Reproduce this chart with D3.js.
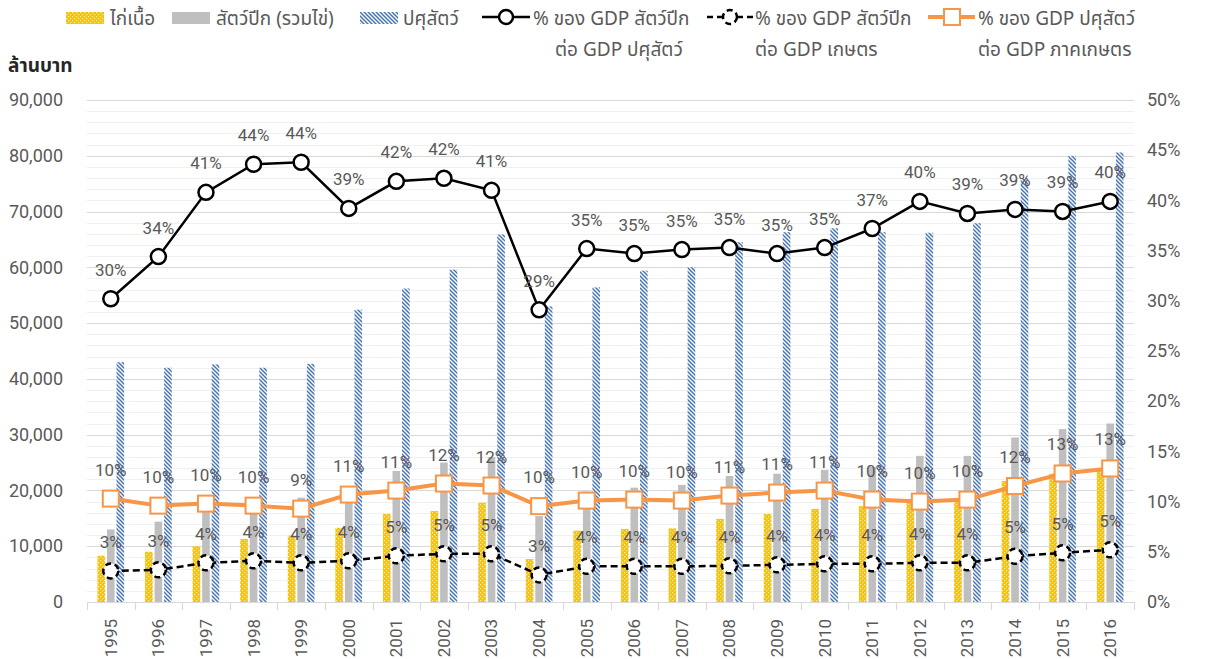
<!DOCTYPE html>
<html>
<head>
<meta charset="utf-8">
<script src="https://cdnjs.cloudflare.com/ajax/libs/d3/7.8.5/d3.min.js"></script>
<style>
  body { margin: 0; background: #fff; }
  svg { display: block; font-family: Roboto, "Noto Sans Thai", "Noto Sans", sans-serif; }
  .thai { font-family: "Noto Sans Thai", "Noto Sans Thai Looped", "Noto Sans", sans-serif; }
</style>
</head>
<body>
<div id="chart"></div>
<script>
// data (million baht / percent)
var years = ["1995","1996","1997","1998","1999","2000","2001","2002","2003","2004","2005",
             "2006","2007","2008","2009","2010","2011","2012","2013","2014","2015","2016"];
var chicken   = [8300, 9000, 10000, 11300, 11900, 13300, 15800, 16300, 17800, 7700, 12800,
                 13100, 13200, 14900, 15800, 16700, 17200, 17800, 18100, 21700, 23000, 23900];
var poultry   = [13000, 14400, 16700, 16000, 18700, 20000, 23500, 25000, 26000, 15400, 19800,
                 20500, 21000, 22600, 23000, 23700, 24200, 26200, 26200, 29500, 31000, 32000];
var livestock = [43000, 42000, 42600, 42000, 42700, 52400, 56200, 59600, 65900, 53000, 56400,
                 59400, 60000, 64500, 66300, 67000, 66300, 66200, 67900, 76000, 80000, 80600];
var pctPoultryLivestock = [30.2, 34.4, 40.8, 43.6, 43.8, 39.2, 41.9, 42.2, 41.0, 29.1, 35.2,
                           34.7, 35.1, 35.3, 34.7, 35.3, 37.2, 39.9, 38.7, 39.1, 38.9, 39.9];
var pctPoultryAgri = [3.1, 3.2, 3.9, 4.1, 3.9, 4.1, 4.6, 4.8, 4.8, 2.7, 3.55,
                      3.55, 3.55, 3.6, 3.7, 3.8, 3.8, 3.9, 3.9, 4.55, 4.9, 5.2];
var pctLivestockAgri = [10.3, 9.6, 9.8, 9.6, 9.3, 10.7, 11.1, 11.8, 11.6, 9.55, 10.1,
                        10.2, 10.1, 10.6, 10.9, 11.1, 10.2, 10.0, 10.2, 11.55, 12.8, 13.3];
var leftTicks = [0, 10000, 20000, 30000, 40000, 50000, 60000, 70000, 80000, 90000];
var rightTicks = [0, 5, 10, 15, 20, 25, 30, 35, 40, 45, 50];

var W = 1206, H = 659;
var plot = {left: 87, right: 1134, top: 100, bottom: 602};

var svg = d3.select("#chart").append("svg")
    .attr("width", W).attr("height", H);

// patterns
var defs = svg.append("defs");
var pY = defs.append("pattern").attr("id", "pYellow")
    .attr("patternUnits", "userSpaceOnUse").attr("width", 4).attr("height", 4);
pY.append("rect").attr("width", 4).attr("height", 4).attr("fill", "#FFC000");
pY.append("rect").attr("x", 0).attr("y", 0).attr("width", 1.2).attr("height", 1.2).attr("fill", "#FFEFB8");
pY.append("rect").attr("x", 2).attr("y", 2).attr("width", 1.2).attr("height", 1.2).attr("fill", "#FFEFB8");

var pB = defs.append("pattern").attr("id", "pBlue")
    .attr("patternUnits", "userSpaceOnUse").attr("width", 4).attr("height", 4);
pB.append("rect").attr("width", 4).attr("height", 4).attr("fill", "#fff");
pB.append("path").attr("d", "M-1,-1L5,5M-1,3L1,5M3,-1L5,1")
    .attr("stroke", "#4472C4").attr("stroke-width", 1.5);

// scales
var x = d3.scaleBand().domain(years).range([plot.left, plot.right]).padding(0);
var y = d3.scaleLinear().domain([0, 90000]).range([plot.bottom, plot.top]);
var y2 = d3.scaleLinear().domain([0, 50]).range([plot.bottom, plot.top]);

// gridlines (minor + major)
var minor = d3.range(0, 90001, 2000);
svg.append("g").selectAll("line").data(minor).join("line")
    .attr("x1", plot.left).attr("x2", plot.right)
    .attr("y1", function(d) { return Math.round(y(d)) + 0.5; })
    .attr("y2", function(d) { return Math.round(y(d)) + 0.5; })
    .attr("stroke", function(d) { return d % 10000 === 0 ? "#d9d9d9" : "#f0f0f0"; })
    .attr("stroke-width", 1.2);

// left axis
var yAxis = svg.append("g")
    .attr("transform", "translate(" + (plot.left - 21) + ",0)")
    .call(d3.axisLeft(y).tickValues(leftTicks).tickSize(0).tickFormat(d3.format(",")));
yAxis.select(".domain").remove();
yAxis.selectAll("text").attr("fill", "#595959").style("font-size", "18px")
    .style("font-family", "Roboto");

// right axis
var y2Axis = svg.append("g")
    .attr("transform", "translate(" + (plot.right + 13) + ",0)")
    .call(d3.axisRight(y2).tickValues(rightTicks).tickSize(0).tickFormat(function(d) { return d + "%"; }));
y2Axis.select(".domain").remove();
y2Axis.selectAll("text").attr("fill", "#595959").attr("x", 0).style("font-size", "18px")
    .style("font-family", "Roboto");

// bars
var bw = x.bandwidth() * 0.16, gap = x.bandwidth() * 0.04;
var barSeries = [
  {values: chicken, fill: "url(#pYellow)", off: -bw * 1.5 - gap},
  {values: poultry, fill: "#BFBFBF", off: -bw * 0.5},
  {values: livestock, fill: "url(#pBlue)", off: bw * 0.5 + gap}
];
barSeries.forEach(function(s) {
  svg.append("g").selectAll("rect").data(s.values).join("rect")
      .attr("x", function(d, i) { return x(years[i]) + x.bandwidth() / 2 + s.off; })
      .attr("width", bw)
      .attr("y", function(d) { return y(d); })
      .attr("height", function(d) { return y(0) - y(d); })
      .attr("fill", s.fill);
});

// x axis
svg.append("line").attr("x1", plot.left).attr("x2", plot.right)
    .attr("y1", plot.bottom + 0.5).attr("y2", plot.bottom + 0.5)
    .attr("stroke", "#d9d9d9").attr("stroke-width", 1.2);
var edges = years.map(function(d) { return x(d); }).concat([plot.right]);
svg.append("g").selectAll("line").data(edges).join("line")
    .attr("x1", function(d) { return Math.round(d) + 0.5; })
    .attr("x2", function(d) { return Math.round(d) + 0.5; })
    .attr("y1", plot.bottom).attr("y2", plot.bottom + 8)
    .attr("stroke", "#d9d9d9").attr("stroke-width", 1.2);
var xAxis = svg.append("g")
    .attr("transform", "translate(0," + plot.bottom + ")")
    .call(d3.axisBottom(x).tickSize(0));
xAxis.select(".domain").remove();
xAxis.selectAll("text")
    .attr("transform", "rotate(-90)")
    .attr("x", -17).attr("y", 0).attr("dy", "0.35em")
    .attr("text-anchor", "end")
    .attr("fill", "#595959").style("font-size", "17px").style("font-family", "Roboto");

// lines
var cx = function(i) { return x(years[i]) + x.bandwidth() / 2; };
var line = d3.line().x(function(d, i) { return cx(i); }).y(function(d) { return y2(d); });

svg.append("path").datum(pctLivestockAgri).attr("d", line)
    .attr("fill", "none").attr("stroke", "#F79646").attr("stroke-width", 4);
svg.append("path").datum(pctPoultryAgri).attr("d", line)
    .attr("fill", "none").attr("stroke", "#000").attr("stroke-width", 2.5)
    .attr("stroke-dasharray", "7,4");
svg.append("path").datum(pctPoultryLivestock).attr("d", line)
    .attr("fill", "none").attr("stroke", "#000").attr("stroke-width", 2.5);

svg.append("g").selectAll("rect").data(pctLivestockAgri).join("rect")
    .attr("x", function(d, i) { return cx(i) - 8; })
    .attr("y", function(d) { return y2(d) - 8; })
    .attr("width", 16).attr("height", 16)
    .attr("fill", "#fff").attr("stroke", "#F79646").attr("stroke-width", 2);
svg.append("g").selectAll("circle").data(pctPoultryAgri).join("circle")
    .attr("cx", function(d, i) { return cx(i); })
    .attr("cy", function(d) { return y2(d); })
    .attr("r", 7.5).attr("fill", "#fff").attr("stroke", "#000")
    .attr("stroke-width", 2.5).attr("stroke-dasharray", "6,3.8");
svg.append("g").selectAll("circle").data(pctPoultryLivestock).join("circle")
    .attr("cx", function(d, i) { return cx(i); })
    .attr("cy", function(d) { return y2(d); })
    .attr("r", 7.5).attr("fill", "#fff").attr("stroke", "#000").attr("stroke-width", 2.5);

// data labels
[pctLivestockAgri, pctPoultryAgri, pctPoultryLivestock].forEach(function(s) {
  svg.append("g").selectAll("text").data(s).join("text")
      .attr("x", function(d, i) { return cx(i); })
      .attr("y", function(d) { return y2(d) - 23; })
      .attr("text-anchor", "middle")
      .attr("fill", "#595959").style("font-size", "17px").style("font-family", "Roboto")
      .text(function(d) { return Math.round(d) + "%"; });
});

// unit label
svg.append("text").attr("class", "thai").attr("x", 8).attr("y", 72)
    .attr("fill", "#262626").style("font-size", "19px").style("font-weight", "bold")
    .text("ล้านบาท");

// legend
var lg = svg.append("g").attr("class", "thai").style("font-size", "19px").attr("fill", "#595959");
lg.append("rect").attr("x", 66).attr("y", 12).attr("width", 38).attr("height", 12).attr("fill", "url(#pYellow)");
lg.append("text").attr("x", 110).attr("y", 25).text("ไก่เนื้อ");
lg.append("rect").attr("x", 172).attr("y", 12).attr("width", 38).attr("height", 12).attr("fill", "#BFBFBF");
lg.append("text").attr("x", 216).attr("y", 25).text("สัตว์ปีก (รวมไข่)");
lg.append("rect").attr("x", 360).attr("y", 12).attr("width", 38).attr("height", 12).attr("fill", "url(#pBlue)");
lg.append("text").attr("x", 403).attr("y", 25).text("ปศุสัตว์");

lg.append("line").attr("x1", 482).attr("x2", 530).attr("y1", 17).attr("y2", 17)
    .attr("stroke", "#000").attr("stroke-width", 2.5);
lg.append("circle").attr("cx", 506).attr("cy", 17).attr("r", 7).attr("fill", "#fff")
    .attr("stroke", "#000").attr("stroke-width", 2.5);
lg.append("text").attr("x", 533).attr("y", 25).text("% ของ GDP สัตว์ปีก");
lg.append("text").attr("x", 555).attr("y", 56).text("ต่อ GDP ปศุสัตว์");

lg.append("line").attr("x1", 707).attr("x2", 753).attr("y1", 17).attr("y2", 17)
    .attr("stroke", "#000").attr("stroke-width", 2.5).attr("stroke-dasharray", "6,4");
lg.append("circle").attr("cx", 730).attr("cy", 17).attr("r", 7).attr("fill", "#fff")
    .attr("stroke", "#000").attr("stroke-width", 2.5).attr("stroke-dasharray", "6,3.8");
lg.append("text").attr("x", 755).attr("y", 25).text("% ของ GDP สัตว์ปีก");
lg.append("text").attr("x", 755).attr("y", 56).text("ต่อ GDP เกษตร");

lg.append("line").attr("x1", 928).attr("x2", 975).attr("y1", 17).attr("y2", 17)
    .attr("stroke", "#F79646").attr("stroke-width", 4);
lg.append("rect").attr("x", 944).attr("y", 9).attr("width", 16).attr("height", 16)
    .attr("fill", "#fff").attr("stroke", "#F79646").attr("stroke-width", 2);
lg.append("text").attr("x", 978).attr("y", 25).text("% ของ GDP ปศุสัตว์");
lg.append("text").attr("x", 978).attr("y", 56).text("ต่อ GDP ภาคเกษตร");
</script>
</body>
</html>
